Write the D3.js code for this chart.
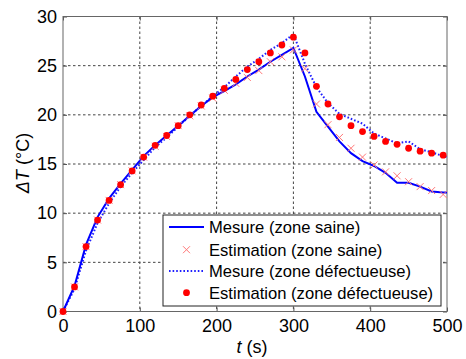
<!DOCTYPE html>
<html>
<head>
<meta charset="utf-8">
<script src="https://cdn.jsdelivr.net/npm/d3@7"></script>
<style>
  body { margin: 0; background: #fff; }
  svg { display: block; font-family: Arial, "Liberation Sans", sans-serif; }
</style>
</head>
<body>
<div id="chart"></div>
<script>
// time samples (s)
const tSample = [0, 15, 30, 45, 60, 75, 90, 105, 120, 135, 150, 165, 180, 195, 210, 225, 240,
  255, 270, 285, 300, 315, 330, 345, 360, 375, 390, 405, 420, 435, 450, 465, 480, 495];
const tMesure = tSample.concat([500]);

// Mesure (zone saine) - solid
const mesureSaine = [0, 2.6, 6.8, 9.6, 11.5, 13.0, 14.4, 15.8, 16.9, 17.9, 18.9, 19.9, 20.9, 21.8,
  22.4, 23.1, 23.9, 24.6, 25.4, 26.1, 26.8, 23.9, 20.3, 18.8, 17.3, 16.1, 15.3, 14.8, 14.1,
  13.1, 13.1, 12.7, 12.2, 12.1, 12.1];
// Estimation (zone saine) - crosses
const estimSaine = [0, 2.5, 6.6, 9.3, 11.3, 12.9, 14.3, 15.7, 16.8, 17.8, 18.9, 19.9, 20.9, 21.7,
  22.5, 23.2, 23.8, 24.5, 25.4, 25.9, 26.6, 24.7, 21.1, 19.0, 17.7, 16.6, 15.7, 14.9, 14.2,
  13.8, 13.2, 12.7, 12.3, 11.9];
// Mesure (zone défectueuse) - dotted
const mesureDefaut = [0, 2.3, 6.2, 9.0, 11.0, 12.7, 14.1, 15.4, 16.7, 17.7, 18.8, 19.9, 20.9, 21.9,
  22.8, 23.9, 24.9, 25.7, 26.6, 27.3, 28.2, 25.2, 22.8, 21.2, 20.1, 19.6, 19.1, 18.1, 17.6,
  17.1, 17.3, 16.5, 16.2, 15.8, 15.7];
// Estimation (zone défectueuse) - filled dots
const estimDefaut = [0, 2.5, 6.6, 9.3, 11.3, 12.9, 14.3, 15.7, 16.9, 17.9, 18.9, 20.0, 21.0, 21.9,
  22.7, 23.6, 24.6, 25.4, 26.3, 27.1, 27.9, 26.3, 22.9, 21.1, 19.8, 18.9, 18.3, 17.8, 17.3,
  17.0, 16.6, 16.3, 16.1, 15.9];

const xTicks = [0, 100, 200, 300, 400, 500];
const yTicks = [0, 5, 10, 15, 20, 25, 30];
const legendLabels = ['Mesure (zone saine)', 'Estimation (zone saine)',
  'Mesure (zone défectueuse)', 'Estimation (zone défectueuse)'];

const W = 466, H = 359;
const m = { left: 63, top: 16.5, right: 19, bottom: 47.5 };
const pw = W - m.left - m.right, ph = H - m.top - m.bottom;

const svg = d3.select('#chart').append('svg').attr('width', W).attr('height', H);
const g = svg.append('g').attr('transform', `translate(${m.left},${m.top})`);

const x = d3.scaleLinear().domain([0, 500]).range([0, pw]);
const y = d3.scaleLinear().domain([0, 30]).range([ph, 0]);

g.append('rect').attr('width', pw).attr('height', ph).attr('fill', '#fff');

// grid
g.append('g').selectAll('line').data(xTicks.slice(1, -1)).join('line')
  .attr('x1', d => x(d)).attr('x2', d => x(d)).attr('y1', 0).attr('y2', ph)
  .attr('stroke', '#444').attr('stroke-dasharray', '2.5,2.5');
g.append('g').selectAll('line').data(yTicks.slice(1, -1)).join('line')
  .attr('y1', d => y(d)).attr('y2', d => y(d)).attr('x1', 0).attr('x2', pw)
  .attr('stroke', '#444').attr('stroke-dasharray', '2.5,2.5');

// axes (ticks inside, matlab style)
g.append('g').attr('transform', `translate(0,${ph})`)
  .call(d3.axisBottom(x).tickValues(xTicks).tickSize(-4).tickPadding(8));
g.append('g')
  .call(d3.axisLeft(y).tickValues(yTicks).tickSize(-4).tickPadding(6));
g.append('g').call(d3.axisTop(x).tickValues(xTicks).tickSize(-4).tickFormat(''));
g.append('g').attr('transform', `translate(${pw},0)`)
  .call(d3.axisRight(y).tickValues(yTicks).tickSize(-4).tickFormat(''));
g.selectAll('.domain').remove();
g.selectAll('.tick line').attr('stroke', '#555');
g.selectAll('.tick text').attr('font-size', 18).attr('fill', '#000')
  .attr('font-family', 'Arial, "Liberation Sans", sans-serif');

g.append('rect').attr('width', pw).attr('height', ph)
  .attr('fill', 'none').attr('stroke', '#666').attr('stroke-width', 1);

// series
const line = d3.line().x(d => x(d[0])).y(d => y(d[1]));
const zip = (ts, vs) => vs.map((v, i) => [ts[i], v]);

g.append('path').datum(zip(tMesure, mesureDefaut)).attr('d', line)
  .attr('fill', 'none').attr('stroke', '#1f1fff').attr('stroke-width', 2)
  .attr('stroke-dasharray', '1.6,2');
g.append('path').datum(zip(tMesure, mesureSaine)).attr('d', line)
  .attr('fill', 'none').attr('stroke', '#0000ff').attr('stroke-width', 2);

const cross = (sel, s) => sel.attr('d', `M${-s},${-s}L${s},${s}M${-s},${s}L${s},${-s}`)
  .attr('stroke', '#ff7878').attr('stroke-width', 1).attr('fill', 'none');

g.append('g').selectAll('path').data(zip(tSample, estimSaine)).join('path')
  .attr('transform', d => `translate(${x(d[0])},${y(d[1])})`)
  .call(cross, 3.5);
g.append('g').selectAll('circle').data(zip(tSample, estimDefaut)).join('circle')
  .attr('cx', d => x(d[0])).attr('cy', d => y(d[1])).attr('r', 3.4)
  .attr('fill', '#ff0000');

// axis labels
svg.append('text').attr('x', 252).attr('y', 353).attr('text-anchor', 'middle')
  .attr('font-size', 18)
  .call(t => {
    t.append('tspan').attr('font-style', 'italic').text('t');
    t.append('tspan').text(' (s)');
  });
svg.append('text').attr('transform', 'translate(29,163) rotate(-90)')
  .attr('text-anchor', 'middle').attr('font-size', 18)
  .call(t => {
    t.append('tspan').attr('font-style', 'italic').text('ΔT');
    t.append('tspan').text(' (°C)');
  });

// legend
const lg = svg.append('g').attr('transform', 'translate(163,215)');
lg.append('rect').attr('width', 278).attr('height', 91)
  .attr('fill', '#fff').attr('stroke', '#222').attr('stroke-width', 1);
const rowY = [12, 34.7, 56, 77.7];
legendLabels.forEach((lab, i) => {
  const ry = rowY[i];
  const r = lg.append('g').attr('transform', `translate(0,${ry})`);
  if (i === 0) r.append('line').attr('x1', 6).attr('x2', 41).attr('stroke', '#0000ff').attr('stroke-width', 2);
  if (i === 2) r.append('line').attr('x1', 6).attr('x2', 41).attr('stroke', '#1f1fff')
    .attr('stroke-width', 2).attr('stroke-dasharray', '1.6,2');
  if (i === 1) r.append('path').attr('transform', 'translate(23.5,0)').call(cross, 3.5);
  if (i === 3) r.append('circle').attr('cx', 23.5).attr('r', 3.4).attr('fill', '#ff0000');
  r.append('text').attr('x', 46).attr('dy', '0.35em').attr('font-size', 16.6).text(lab);
});
</script>
</body>
</html>
